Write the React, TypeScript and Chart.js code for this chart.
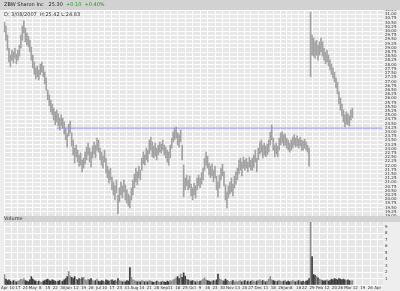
import React, { useEffect, useRef } from "react";
import { Chart, registerables } from "chart.js";
Chart.register(...registerables);

const SLOTS = 254;
const HOLIDAYS = ["2006-04-14","2006-05-29","2006-07-04","2006-09-04","2006-11-23","2006-12-25","2007-01-01","2007-01-02","2007-01-15","2007-02-19","2007-04-06"];
const MONTHS = ["Jan","Feb","Mar","Apr","May","Jun","Jul","Aug","Sep","Oct","Nov","Dec"];

const highs = [
30.53,30.30,29.76,28.99,28.57,28.87,28.75,28.99,28.63,28.87,
29.17,29.76,30.30,30.60,30.18,29.88,29.70,29.46,29.05,28.57,
28.16,27.80,27.92,27.68,28.04,28.16,27.92,27.56,27.21,26.49,
26.20,25.90,25.66,25.42,25.19,25.30,25.07,24.83,25.01,24.83,
24.59,24.23,23.88,24.47,24.65,23.94,23.52,23.04,23.22,22.92,
22.63,22.75,22.33,22.45,22.80,23.10,23.34,23.04,22.80,23.16,
23.40,23.22,23.64,23.52,23.04,22.80,22.57,22.92,22.45,21.97,
21.73,21.85,21.32,21.02,20.79,21.14,20.25,20.67,21.02,20.79,
21.14,20.85,20.55,20.31,20.19,20.67,21.14,21.50,21.85,21.62,
21.97,21.73,22.45,22.80,22.63,23.04,22.92,23.52,23.70,23.40,
23.16,23.34,23.04,23.22,23.40,23.28,23.52,23.22,23.10,22.92,
22.80,23.22,23.64,24.00,24.23,24.29,23.94,23.82,24.11,23.22,
22.03,21.26,21.44,21.14,21.38,20.90,20.67,20.96,20.79,21.26,
21.44,21.26,21.56,21.85,22.45,22.80,22.57,22.15,21.97,22.09,
21.73,21.97,21.38,21.02,21.44,21.85,22.09,21.62,20.85,20.43,
20.79,21.02,21.26,20.90,21.38,21.62,21.85,22.33,22.45,22.21,
22.51,22.33,22.45,22.21,22.51,22.33,22.45,22.63,22.92,22.45,
23.04,23.40,23.52,23.22,23.34,23.16,23.28,23.52,23.99,24.41,
23.64,23.22,23.34,23.16,23.64,23.94,24.00,23.82,23.88,23.64,
23.52,23.34,23.52,23.70,23.82,23.64,23.76,23.58,23.70,23.52,
23.46,23.58,23.40,23.22,23.04,31.13,29.76,29.58,29.35,29.46,
29.17,29.35,29.58,29.35,28.99,28.75,28.87,28.57,28.27,28.04,
27.80,27.56,27.21,26.97,26.38,26.02,25.66,25.30,25.01,25.19,
25.07,24.95,25.30,25.42
];
const lows = [
29.94,29.46,28.87,28.16,27.86,28.27,28.10,28.39,28.04,28.27,
28.51,28.99,29.46,29.88,29.35,29.17,29.05,28.75,28.27,27.80,
27.44,27.15,27.27,27.09,27.39,27.56,27.27,26.85,26.49,25.90,
25.54,25.19,25.01,24.71,24.41,24.59,24.35,24.11,24.35,24.23,
23.88,23.52,23.10,23.76,23.94,23.16,22.63,22.15,22.51,22.21,
21.97,22.03,21.62,21.85,22.09,22.33,22.63,22.21,21.91,22.45,
22.69,22.45,22.92,22.80,22.33,22.03,21.85,22.21,21.56,21.26,
20.96,21.14,20.55,20.25,19.95,20.37,19.12,19.83,20.25,20.07,
20.43,19.95,19.77,19.59,19.48,19.95,20.25,20.67,21.02,20.85,
21.26,21.14,21.73,22.09,22.03,22.33,22.21,22.69,22.92,22.51,
22.45,22.57,22.33,22.63,22.80,22.75,22.92,22.63,22.45,22.21,
22.03,22.45,23.04,23.40,23.52,23.64,23.22,23.10,23.40,22.33,
20.13,20.55,20.79,20.55,20.67,20.19,19.95,20.25,20.07,20.55,
20.79,20.67,20.90,21.14,21.73,22.03,21.85,21.44,21.26,21.38,
21.02,21.26,20.55,20.13,20.67,21.14,21.38,20.79,19.95,19.48,
20.07,20.31,20.43,20.19,20.67,20.90,21.14,21.50,21.73,21.38,
21.85,21.73,21.85,21.62,21.91,21.73,21.73,21.91,22.21,21.62,
22.33,22.69,22.80,22.45,22.63,22.51,22.63,22.80,23.22,23.52,
22.92,22.51,22.69,22.51,22.92,23.22,23.34,23.16,23.22,23.04,
22.92,22.80,22.92,23.04,23.22,23.10,23.16,23.04,23.16,22.92,
22.92,23.04,22.92,22.80,21.97,27.27,28.57,28.51,28.39,28.57,
28.27,28.57,28.75,28.51,28.27,28.04,28.16,27.92,27.68,27.44,
27.21,26.97,26.61,26.26,25.66,25.30,24.95,24.59,24.29,24.47,
24.41,24.35,24.71,24.83
];
const volumes = [
1.6,0.9,0.7,0.8,0.6,0.5,0.7,0.6,0.5,0.6,
0.7,0.9,0.8,1.0,0.7,0.6,0.5,0.8,1.3,0.9,
0.7,0.6,0.5,0.6,0.5,0.4,0.6,0.7,0.8,0.9,
0.7,0.6,0.8,0.7,0.6,0.5,0.6,0.7,0.5,0.6,
0.8,1.0,1.3,2.1,1.4,1.2,1.0,1.3,0.9,0.8,
1.0,0.9,1.1,1.2,0.8,0.7,0.9,0.8,1.0,0.7,
0.6,0.7,0.9,0.6,0.5,0.7,0.6,0.5,0.8,0.7,
0.6,0.7,0.8,0.6,0.7,0.6,1.0,0.7,0.6,0.5,
0.6,0.5,0.7,0.6,2.7,1.2,0.8,0.7,0.6,0.5,
0.6,0.5,0.7,0.6,0.5,0.6,0.5,0.7,0.6,0.5,
0.4,0.5,0.6,0.5,0.4,0.5,0.6,0.5,0.4,0.6,
0.5,0.7,0.6,0.8,0.9,1.1,1.3,1.0,1.7,1.2,
1.9,1.4,0.9,0.8,0.7,0.6,0.7,0.6,0.5,0.6,
0.5,0.6,0.7,0.9,1.1,0.8,0.7,0.6,0.5,0.6,
0.7,0.6,0.8,1.7,1.0,0.8,0.7,0.6,0.9,0.7,
0.6,0.5,0.6,0.7,0.5,0.6,0.5,0.6,0.7,0.5,
0.6,0.7,0.5,0.6,0.5,0.6,0.7,0.6,0.5,0.6,
0.7,0.8,0.6,0.7,0.6,0.5,0.6,0.9,1.3,0.8,
0.7,0.6,0.5,0.6,0.7,0.6,0.5,0.6,0.7,0.5,
0.6,0.5,0.6,0.7,0.6,0.5,0.6,0.7,0.6,0.5,
0.6,0.5,0.6,0.7,1.0,9.8,4.4,1.6,1.5,1.3,
1.1,0.9,0.8,0.7,0.6,0.7,0.8,0.6,0.7,0.9,
0.8,1.0,0.9,0.8,1.0,0.9,0.8,0.9,0.8,0.7,
0.8,0.7,0.6,0.7
];

const PRICE_MIN = 19;
const PRICE_MAX = 31.25;
const PRICE_STEP = 0.25;
const VOL_MAX = 10.7;
const VOL_STEP = 1;
const LEVEL_PRICE = 24.23;
const LEVEL_START = 35;
const TITLE = "ZBW Sharon Inc   25.30";
const TITLE_CHANGE = "+0.10  +0.40%";
const INFO = "D: 3/08/2007  H:25.42 L:24.83";
const VOL_LABEL = "Volume";

function tradingDays(): Date[] {
  const out: Date[] = [];
  const d = new Date(Date.UTC(2006, 3, 3));
  while (out.length < SLOTS) {
    const dow = d.getUTCDay();
    const iso = d.toISOString().slice(0, 10);
    if (dow !== 0 && dow !== 6 && !HOLIDAYS.includes(iso)) out.push(new Date(d.getTime()));
    d.setUTCDate(d.getUTCDate() + 1);
  }
  return out;
}

export default function App() {
  const ref = useRef<HTMLCanvasElement | null>(null);
  useEffect(() => {
    const days = tradingDays();
    const labels = days.map((d) => d.toISOString().slice(0, 10));
    const weekStart: boolean[] = days.map((d, i) => {
      if (i === 0) return true;
      const p = days[i - 1];
      return d.getUTCDay() < p.getUTCDay() || (d.getTime() - p.getTime()) >= 7 * 864e5;
    });
    let lastMonth = -1;
    const tickText: string[] = days.map((d, i) => {
      if (!weekStart[i]) return "";
      const m = d.getUTCMonth();
      if (m !== lastMonth) { lastMonth = m; return MONTHS[m]; }
      return String(d.getUTCDate());
    });
    const mids = highs.map((h, i) => (h + lows[i]) / 2);
    const volColors = volumes.map((_, i) => (i > 0 && mids[i] < mids[i - 1] ? "#3c3c3c" : "#8e8e8e"));

    const chromePlugin = {
      id: "chrome",
      beforeDraw(chart: any) {
        const { ctx, chartArea } = chart;
        ctx.save();
        ctx.fillStyle = "#eeeeee";
        ctx.fillRect(0, 0, chart.width, chart.height);
        ctx.fillStyle = "#e6e6e6";
        ctx.fillRect(chartArea.left, chartArea.top, chartArea.right - chartArea.left, chartArea.bottom - chartArea.top);
        ctx.restore();
      },
      afterDraw(chart: any) {
        const { ctx, chartArea } = chart;
        const yv = chart.scales.yv;
        ctx.save();
        ctx.fillStyle = "#d2d2d2";
        ctx.fillRect(0, 0, chart.width, 10);
        ctx.fillRect(chartArea.left, yv.top, chart.width - chartArea.left, 6);
        ctx.font = "5px 'DejaVu Sans'";
        ctx.textBaseline = "middle";
        ctx.fillStyle = "#222";
        ctx.fillText(TITLE, 4, 5);
        const w = ctx.measureText(TITLE + "  ").width;
        ctx.fillStyle = "#1aa01a";
        ctx.fillText(TITLE_CHANGE, 4 + w, 5);
        ctx.fillStyle = "#333";
        ctx.fillText(INFO, 4, chartArea.top + 5);
        ctx.fillText(VOL_LABEL, 4, yv.top + 3);
        ctx.restore();
      },
    };

    const chart = new Chart(ref.current as HTMLCanvasElement, {
      type: "bar",
      data: {
        labels,
        datasets: [
          {
            type: "line" as const,
            data: [
              { x: labels[LEVEL_START], y: LEVEL_PRICE },
              { x: labels[SLOTS - 1], y: LEVEL_PRICE },
            ],
            yAxisID: "y",
            borderColor: "#8c8cf0",
            borderWidth: 1,
            pointRadius: 0,
          } as any,
          {
            data: highs.map((h, i) => [lows[i], h]),
            yAxisID: "y",
            backgroundColor: "#a2a2a2",
            barThickness: 1,
            grouped: false,
          } as any,
          {
            data: volumes,
            yAxisID: "yv",
            backgroundColor: volColors,
            barThickness: 1,
            grouped: false,
          } as any,
        ],
      },
      options: {
        animation: false,
        responsive: false,
        maintainAspectRatio: false,
        layout: { padding: { top: 10, left: 1, right: 0, bottom: 0 } },
        plugins: { legend: { display: false }, tooltip: { enabled: false } },
        scales: {
          x: {
            type: "category",
            grid: {
              offset: false,
              drawTicks: false,
              color: (c: any) => (weekStart[c.index] ? "#ffffff" : "rgba(0,0,0,0)"),
            },
            border: { display: false },
            ticks: {
              autoSkip: false,
              maxRotation: 0,
              minRotation: 0,
              padding: 1,
              color: "#333",
              font: { size: 4, family: "DejaVu Sans" },
              callback: (_v: any, i: number) => tickText[i],
            },
            afterFit: (s: any) => { s.height = 6; },
          },
          y: {
            position: "right",
            stack: "panes",
            stackWeight: 206,
            min: PRICE_MIN,
            max: PRICE_MAX,
            grid: { color: "#ffffff", drawTicks: false },
            border: { display: false },
            ticks: {
              stepSize: PRICE_STEP,
              autoSkip: false,
              padding: 2,
              color: "#333",
              font: { size: 4, family: "DejaVu Sans" },
              callback: (v: any) => Number(v).toFixed(2),
            },
            afterFit: (s: any) => { s.width = 17; },
          },
          yv: {
            position: "right",
            stack: "panes",
            stackWeight: 69,
            min: 0,
            max: VOL_MAX,
            grid: { color: "#ffffff", drawTicks: false },
            border: { display: false },
            ticks: {
              stepSize: VOL_STEP,
              autoSkip: false,
              padding: 2,
              color: "#333",
              font: { size: 4, family: "DejaVu Sans" },
              callback: (v: any) => (v > 0 && v <= 10 ? String(v) : ""),
            },
            afterFit: (s: any) => { s.width = 17; },
          },
        },
      } as any,
      plugins: [chromePlugin],
    });
    return () => chart.destroy();
  }, []);
  return (
    <div style={{ position: "fixed", left: 0, top: 0, width: 400, height: 291 }}>
      <canvas ref={ref} width={400} height={291} style={{ display: "block" }} />
    </div>
  );
}
